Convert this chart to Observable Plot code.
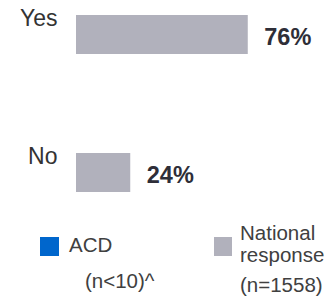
<!DOCTYPE html>
<html>
<head>
<meta charset="utf-8">
<script src="https://cdn.jsdelivr.net/npm/d3@7"></script>
<script src="https://cdn.jsdelivr.net/npm/@observablehq/plot@0.6"></script>
<style>
  html, body { margin: 0; padding: 0; background: #fff; }
  #chart svg { display: block; }
  #legend svg { display: block; }
</style>
</head>
<body>
<div id="chart"></div>
<div id="legend"></div>
<script>
const categories = ["Yes", "No"];
const nationalValues = [76, 24];
const seriesNames = ["ACD", "National response"];
const seriesNotes = ["(n<10)^", "(n=1558)"];
const seriesColors = ["#0066cc", "#b1b1bc"];

const data = categories.map((c, i) => ({category: c, value: nationalValues[i]}));

const font = "'Liberation Sans', Arial, sans-serif";

const chart = Plot.plot({
  width: 332,
  height: 215,
  marginLeft: 76,
  marginRight: 30,
  marginTop: 0,
  marginBottom: 9.3,
  style: {fontFamily: font, background: "#fff"},
  x: {domain: [0, 100], axis: null},
  y: {domain: categories, axis: null, paddingInner: 0.72, paddingOuter: 0.1},
  marks: [
    Plot.barX(data, {x: "value", y: "category", fill: seriesColors[1]}),
    Plot.text(data, {
      x: 0, y: "category", text: "category",
      textAnchor: "end", lineAnchor: "middle", dx: -19, dy: -16,
      fontSize: 23, fill: "#333333"
    }),
    Plot.text(data, {
      x: "value", y: "category", text: d => d.value + "%",
      textAnchor: "start", lineAnchor: "middle", dx: 16, dy: 2,
      fontSize: 23.5, fontWeight: "bold", fill: "#2e2e38"
    })
  ]
});
document.getElementById("chart").appendChild(chart);

// Legend below the chart
const leg = d3.select("#legend").append("svg")
  .attr("width", 332).attr("height", 82)
  .style("font-family", font);
const legendItems = [
  {x: 40, w: 19, name: [seriesNames[0]], nameY: [37], note: seriesNotes[0], noteX: 85, noteY: 73, textX: 69},
  {x: 214, w: 18, name: ["National", "response"], nameY: [25, 47], note: seriesNotes[1], noteX: 240, noteY: 77, textX: 240}
];
legendItems.forEach((it, i) => {
  leg.append("rect").attr("x", it.x).attr("y", 22).attr("width", it.w).attr("height", 19)
    .attr("fill", seriesColors[i]);
  it.name.forEach((t, j) => {
    leg.append("text").attr("x", it.textX).attr("y", it.nameY[j])
      .attr("font-size", 20.5).attr("fill", "#404040").text(t);
  });
  leg.append("text").attr("x", it.noteX).attr("y", it.noteY)
    .attr("font-size", 20.5).attr("fill", "#404040").text(it.note);
});
</script>
</body>
</html>
